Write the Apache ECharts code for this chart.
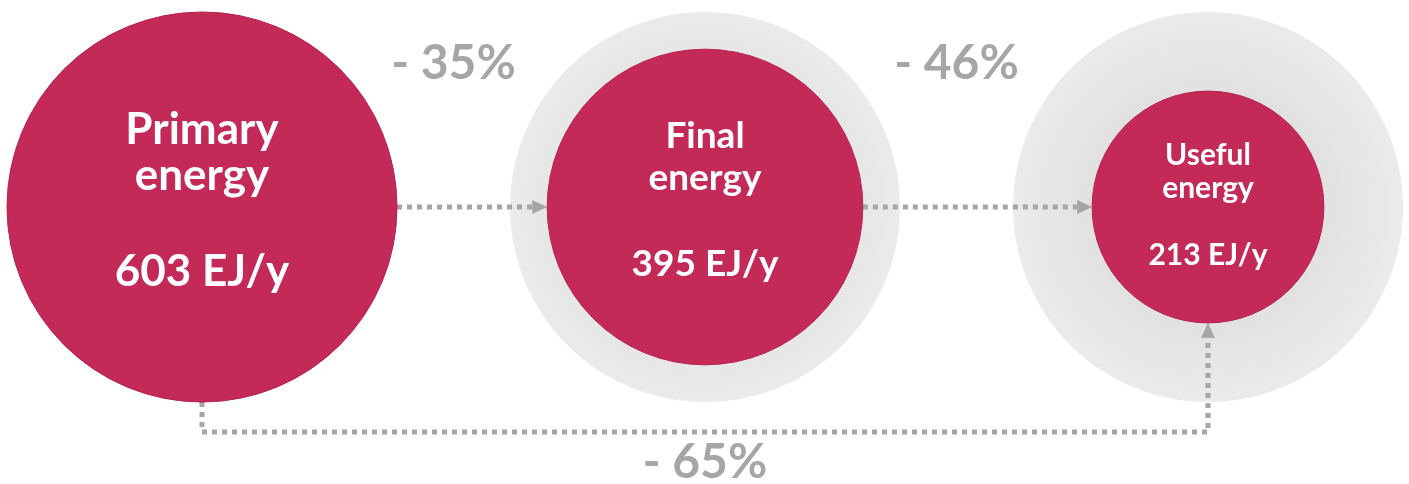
<!DOCTYPE html>
<html>
<head>
<meta charset="utf-8">
<script src="https://cdn.jsdelivr.net/npm/echarts@6/dist/echarts.min.js"></script>
<style>
html,body{margin:0;padding:0;background:#fff;}
#chart{width:1409px;height:484px;}
</style>
</head>
<body>
<div id="chart"></div>
<script>
// ---- data ----
const nameLine1 = ['Primary', 'Final', 'Useful'];
const nameLine2 = ['energy', 'energy', 'energy'];
const values = [603, 395, 213];
const unit = 'EJ/y';
const positions = [0, 1, 2];
// connectors: [from, to]
const connectors = [[0, 1], [1, 2], [0, 2]];
const reductionLabels = ['- 35%', '- 46%', '- 65%'];

// ---- styles ----
const RED = '#c32a57';
const GREY = '#a6a6a6';
const MAX_D = 390;
const FONT = 'Lato, "Open Sans", sans-serif';
function sizeOf(v) { return MAX_D * Math.sqrt(v / values[0]); }

// label layouts per circle: font size, line height, gap to value line, offset
const labelStyles = [
  { fs: 44, L: 46, gap: 96, off: 19 },
  { fs: 37, L: 42, gap: 86, off: 15 },
  { fs: 30, L: 33, gap: 67, off: 15 }
];

const redData = positions.map((x, i) => {
  const ls = labelStyles[i];
  const V = 2 * ls.gap - ls.L;
  return {
    value: [x, 0, values[i]],
    label: {
      offset: [0, ls.off],
      rich: {
        n: { fontSize: ls.fs, lineHeight: ls.L, color: '#fff', fontWeight: 'bold', fontFamily: FONT, align: 'center' },
        v: { fontSize: ls.fs, lineHeight: V, color: '#fff', fontWeight: 'bold', fontFamily: FONT, align: 'center' }
      }
    }
  };
});

const haloData = positions.slice(1).map(x => [x, 0, values[0]]);

const chart = echarts.init(document.getElementById('chart'), null, { renderer: 'canvas' });

chart.setOption({
  animation: false,
  backgroundColor: '#fff',
  grid: { left: 7, right: 6, top: 12, bottom: 82 },
  xAxis: { type: 'value', min: -0.3877, max: 2.3877, show: false },
  yAxis: { type: 'value', min: -1, max: 1, show: false },
  series: [
    {
      type: 'scatter',
      data: haloData,
      symbol: 'circle',
      symbolSize: d => sizeOf(d[2]),
      itemStyle: {
        color: {
          type: 'radial', x: 0.5, y: 0.5, r: 0.5,
          colorStops: [
            { offset: 0, color: '#d2d2d2' },
            { offset: 0.6, color: '#dadada' },
            { offset: 1, color: '#e6e6e6' }
          ]
        }
      },
      silent: true,
      z: 1
    },
    {
      type: 'custom',
      z: 2,
      data: connectors,
      renderItem: function (params, api) {
        const a = api.value(0), b = api.value(1);
        const pa = api.coord([positions[a], 0]);
        const pb = api.coord([positions[b], 0]);
        const ra = sizeOf(values[a]) / 2;
        const rb = sizeOf(values[b]) / 2;
        const R = MAX_D / 2;
        const lineStyle = { stroke: GREY, lineWidth: 5, lineDash: [5, 5], fill: null };
        const AL = 15, AW = 7;
        const children = [];
        const label = reductionLabels[params.dataIndex];
        if (b - a === 1) {
          const x0 = pa[0] + ra, x1 = pb[0] - rb, y = pa[1];
          children.push({ type: 'polyline', shape: { points: [[x0, y], [x1 - AL, y]] }, style: lineStyle });
          children.push({ type: 'polygon', shape: { points: [[x1, y], [x1 - AL, y - AW], [x1 - AL, y + AW]] }, style: { fill: GREY } });
          children.push({ type: 'text', style: { text: label, x: (pa[0] + pb[0]) / 2, y: pa[1] - 143, fill: GREY, font: 'bold 48px ' + FONT, align: 'center', verticalAlign: 'middle' } });
        } else {
          const yLow = pa[1] + R + 30;
          const y0 = pa[1] + ra, y1 = pb[1] + rb;
          children.push({ type: 'polyline', shape: { points: [[pa[0], y0], [pa[0], yLow], [pb[0], yLow], [pb[0], y1 + AL]] }, style: lineStyle });
          children.push({ type: 'polygon', shape: { points: [[pb[0], y1], [pb[0] - AW, y1 + AL], [pb[0] + AW, y1 + AL]] }, style: { fill: GREY } });
          children.push({ type: 'text', style: { text: label, x: (pa[0] + pb[0]) / 2, y: pa[1] + 256, fill: GREY, font: 'bold 48px ' + FONT, align: 'center', verticalAlign: 'middle' } });
        }
        return { type: 'group', children: children };
      }
    },
    {
      type: 'scatter',
      z: 3,
      data: redData,
      symbol: 'circle',
      symbolSize: d => sizeOf(d[2]),
      itemStyle: { color: RED, borderColor: '#b8204d', borderWidth: 1, opacity: 1 },
      label: {
        show: true,
        position: 'inside',
        formatter: p => '{n|' + nameLine1[p.dataIndex] + '}\n{n|' + nameLine2[p.dataIndex] + '}\n{v|' + values[p.dataIndex] + ' ' + unit + '}'
      },
      emphasis: { disabled: true },
      silent: true
    }
  ]
});
</script>
</body>
</html>
